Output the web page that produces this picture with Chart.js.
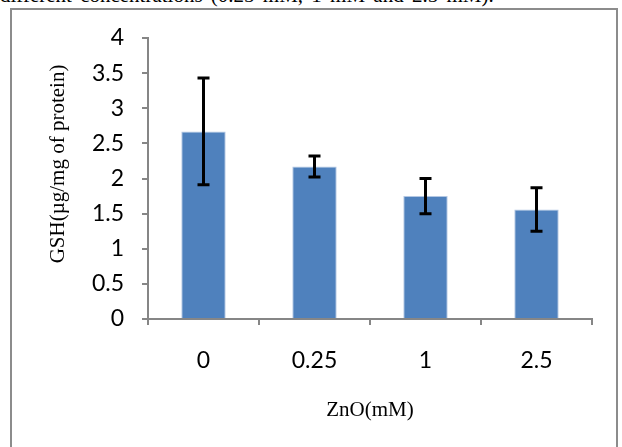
<!DOCTYPE html>
<html>
<head>
<meta charset="utf-8">
<script src="https://cdn.jsdelivr.net/npm/chart.js@4.4.1/dist/chart.umd.min.js"></script>
<style>
  html, body { margin: 0; padding: 0; background: #fff; }
  body { width: 622px; height: 447px; position: relative; overflow: hidden; }
  #caption {
    position: absolute; left: 0; top: -15px; white-space: nowrap; word-spacing: 3px;
    font-family: "Liberation Serif", "Times New Roman", serif; font-size: 21px; line-height: 21px; color: #000;
  }
  #box {
    position: absolute; left: 10px; top: 8px; width: 608px; height: 460px;
    border: 2px solid #8c8c8c; box-sizing: border-box;
  }
  #wrap { position: absolute; left: 0; top: 0; width: 622px; height: 447px; }
</style>
</head>
<body>
<div id="caption">different concentrations (0.25 mM, 1 mM and 2.5 mM).</div>
<div id="box"></div>
<div id="wrap"><canvas id="grafik" width="622" height="447"></canvas></div>
<script>
// data
const doses = ["0", "0.25", "1", "2.5"];
const gshMean = [2.67, 2.17, 1.75, 1.56];
const gshErr = [0.76, 0.15, 0.25, 0.31];
const yTickLabels = ["0", "0.5", "1", "1.5", "2", "2.5", "3", "3.5", "4"];

const axisGrey = "#868686";

// error bars drawn on top of the bars, using the y scale
const errorBars = {
  id: "errorBars",
  afterDatasetsDraw(chart) {
    const { ctx, scales: { y } } = chart;
    const meta = chart.getDatasetMeta(0);
    ctx.save();
    ctx.strokeStyle = "#000";
    ctx.lineWidth = 3;
    meta.data.forEach((bar, i) => {
      const x = bar.x;
      const top = y.getPixelForValue(gshMean[i] + gshErr[i]);
      const bot = y.getPixelForValue(gshMean[i] - gshErr[i]);
      ctx.beginPath();
      ctx.moveTo(x, top); ctx.lineTo(x, bot);
      ctx.moveTo(x - 6, top); ctx.lineTo(x + 6, top);
      ctx.moveTo(x - 6, bot); ctx.lineTo(x + 6, bot);
      ctx.stroke();
    });
    ctx.restore();
  }
};

// y axis title sits a bit above the plot centre in the original
const yTitle = {
  id: "yTitle",
  afterDraw(chart) {
    const { ctx } = chart;
    ctx.save();
    ctx.translate(58, 164);
    ctx.rotate(-Math.PI / 2);
    ctx.font = '21px "Liberation Serif", serif';
    ctx.fillStyle = "#000";
    ctx.textAlign = "center";
    ctx.textBaseline = "middle";
    ctx.fillText("GSH(\u00b5g/mg of protein)", 0, 0);
    ctx.restore();
  }
};

new Chart(document.getElementById("grafik"), {
  type: "bar",
  data: {
    labels: doses,
    datasets: [{
      data: gshMean,
      backgroundColor: "#4f81bd",
      borderColor: "#b3c7e3",
      borderWidth: 1,
      barPercentage: 0.4,
      categoryPercentage: 1
    }]
  },
  options: {
    responsive: false,
    animation: false,
    events: [],
    layout: { padding: { left: 0, top: 38, right: 30, bottom: 0 } },
    plugins: { legend: { display: false }, tooltip: { enabled: false } },
    scales: {
      x: {
        afterFit(scale) { scale.height = 128; },
        border: { color: axisGrey, width: 2 },
        grid: { drawOnChartArea: false, drawTicks: true, tickLength: 6, color: axisGrey, lineWidth: 2 },
        ticks: { color: "#000", padding: 22, font: { family: "Lato", size: 23 } },
        title: {
          display: true, text: "ZnO(mM)", color: "#000",
          font: { family: "Liberation Serif", size: 21 },
          padding: { top: 0, bottom: 24 }
        }
      },
      y: {
        min: 0, max: 4,
        afterFit(scale) { scale.width = 148; },
        border: { color: axisGrey, width: 2 },
        grid: { drawOnChartArea: false, drawTicks: true, tickLength: 6, color: axisGrey, lineWidth: 2 },
        ticks: {
          stepSize: 0.5, color: "#000", padding: 18, font: { family: "Lato", size: 23 },
          callback: (v, i) => yTickLabels[i]
        }
      }
    }
  },
  plugins: [errorBars, yTitle]
});
</script>
</body>
</html>
